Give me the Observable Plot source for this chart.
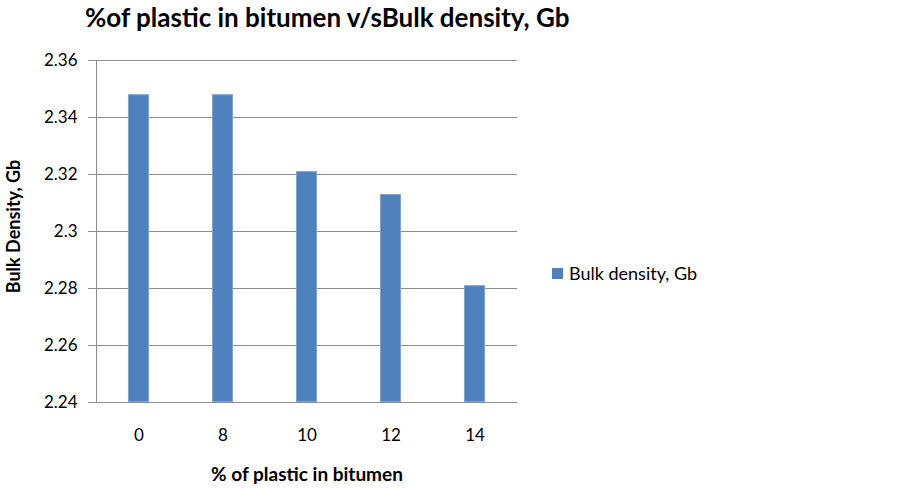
<!DOCTYPE html>
<html>
<head>
<meta charset="utf-8">
<script src="https://cdn.jsdelivr.net/npm/d3@7"></script>
<script src="https://cdn.jsdelivr.net/npm/@observablehq/plot@0.6"></script>
<style>
  body { margin: 0; background: #fff; }
  #wrap { position: relative; width: 899px; height: 488px; font-family: Lato, "Open Sans", sans-serif; }
  #title { position: absolute; left: 85px; top: 2px; line-height: 30px; font-weight: bold; font-size: 26px; color: #000; white-space: nowrap; }
  #legend { position: absolute; left: 552px; top: 262px; line-height: 22px; font-size: 18px; color: #000; display: flex; align-items: center; white-space: nowrap; }
  #legend .sw { width: 11px; height: 11px; background: #4F81BD; margin-right: 6px; }
</style>
</head>
<body>
<div id="wrap">
  <div id="title">%of plastic in bitumen v/sBulk density, Gb</div>
  <div id="legend"><div class="sw"></div><span>Bulk density, Gb</span></div>
</div>
<script>
const categories = ["0", "8", "10", "12", "14"];
const bulkDensity = [2.348, 2.348, 2.321, 2.313, 2.281];
const yTicks = [2.24, 2.26, 2.28, 2.30, 2.32, 2.34, 2.36];
const seriesName = "Bulk density, Gb";
const xLabel = "% of plastic in bitumen";
const yLabel = "Bulk Density, Gb";

const data = categories.map((c, i) => ({cat: c, v: bulkDensity[i]}));
const base = yTicks[0];

const chart = Plot.plot({
  width: 899,
  height: 488,
  marginLeft: 96,
  marginRight: 382,
  marginTop: 60,
  marginBottom: 86,
  style: {fontFamily: "Lato, 'Open Sans', sans-serif", fontSize: "17px", color: "#000", background: "transparent"},
  x: {type: "band", domain: categories, paddingInner: 0.75, paddingOuter: 0.375},
  y: {domain: [yTicks[0], yTicks[yTicks.length - 1]]},
  marks: [
    Plot.gridY(yTicks, {stroke: "#8c8c8c", strokeOpacity: 1, strokeWidth: 1}),
    Plot.barY(data, {x: "cat", y1: () => base, y2: "v", fill: "#4F81BD", stroke: "#7FA3D0", strokeWidth: 1, inset: 0.5}),
    Plot.frame({anchor: "left", stroke: "#8c8c8c"}),
    Plot.axisY({ticks: yTicks, tickSize: 8, tickPadding: 11, stroke: "#8c8c8c", tickFormat: d => String(+d.toFixed(2)), label: null, fontSize: 17}),
    Plot.axisX({tickSize: 0, tickPadding: 26, label: null, fontSize: 17}),
    Plot.text([yLabel], {frameAnchor: "left", textAnchor: "middle", dx: -82, dy: -5, rotate: -90, fontWeight: "bold", fontSize: 18}),
    Plot.text([xLabel], {frameAnchor: "bottom", dy: 78, fontWeight: "bold", fontSize: 19})
  ]
});
document.getElementById("wrap").prepend(chart);
chart.style.position = "absolute";
chart.style.left = "0";
chart.style.top = "0";
</script>
</body>
</html>
